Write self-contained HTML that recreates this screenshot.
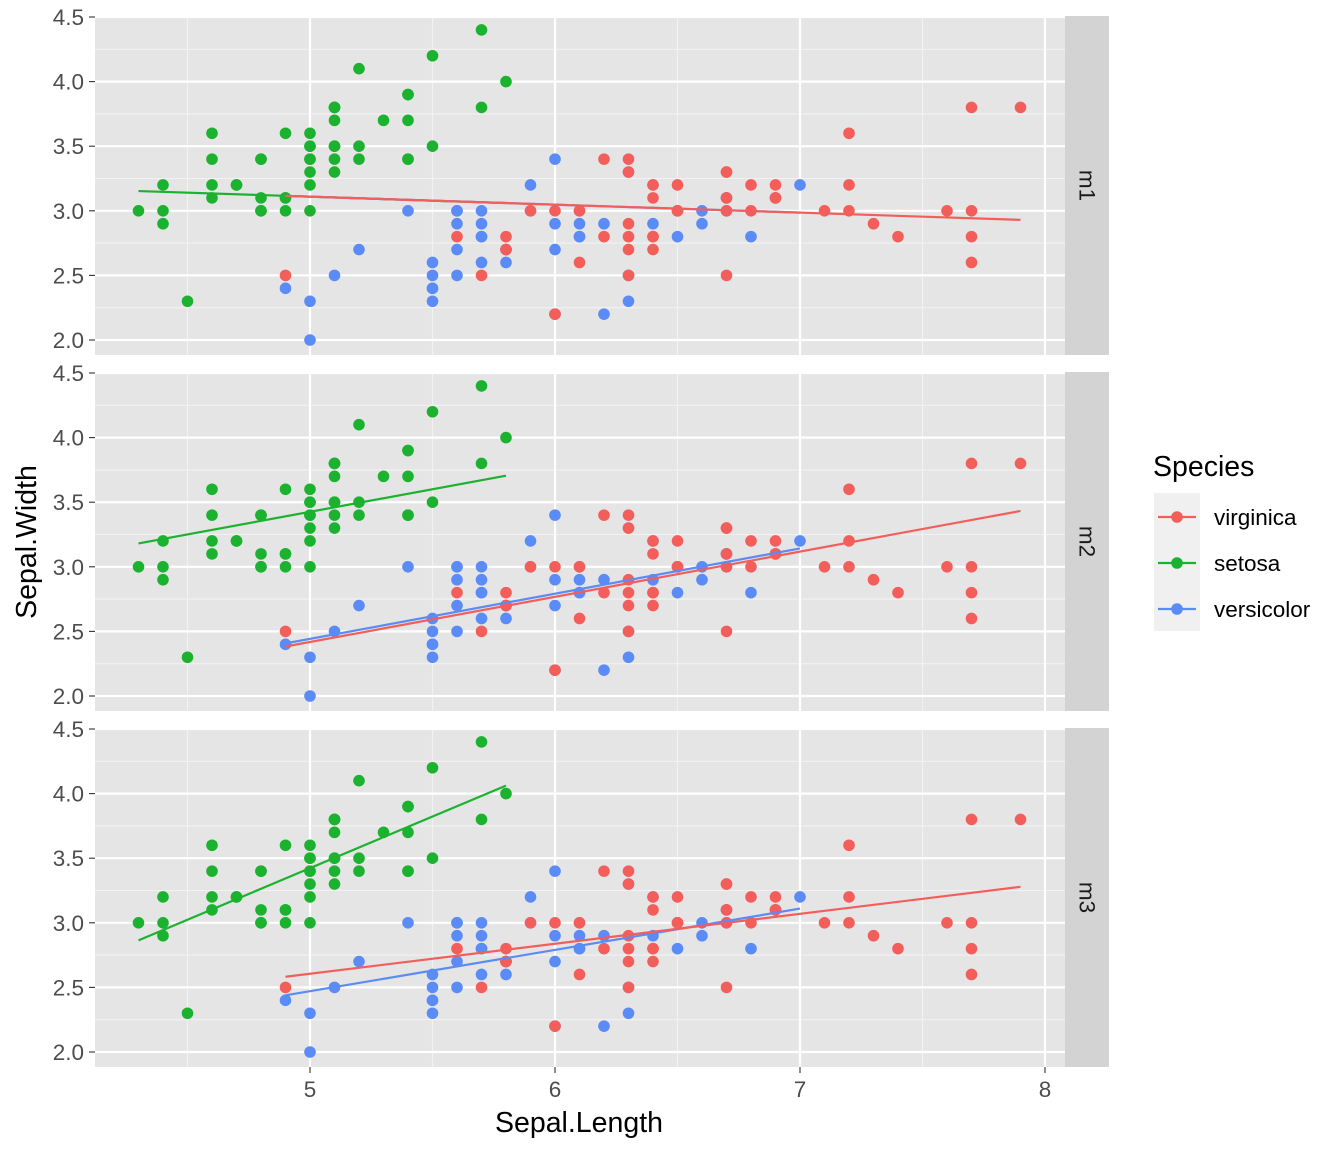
<!DOCTYPE html>
<html><head><meta charset="utf-8"><style>
body{margin:0;background:#fff}
svg text{font-family:"Liberation Sans",Arial,sans-serif}
</style></head><body>
<svg id="c" width="1344" height="1152" xmlns="http://www.w3.org/2000/svg"></svg>
<script>
const setosaL=[5.1,4.9,4.7,4.6,5.0,5.4,4.6,5.0,4.4,4.9,5.4,4.8,4.8,4.3,5.8,5.7,5.4,5.1,5.7,5.1,5.4,5.1,4.6,5.1,4.8,5.0,5.0,5.2,5.2,4.7,4.8,5.4,5.2,5.5,4.9,5.0,5.5,4.9,4.4,5.1,5.0,4.5,4.4,5.0,5.1,4.8,5.1,4.6,5.3,5.0];
const setosaW=[3.5,3.0,3.2,3.1,3.6,3.9,3.4,3.4,2.9,3.1,3.7,3.4,3.0,3.0,4.0,4.4,3.9,3.5,3.8,3.8,3.4,3.7,3.6,3.3,3.4,3.0,3.4,3.5,3.4,3.2,3.1,3.4,4.1,4.2,3.1,3.2,3.5,3.6,3.0,3.4,3.5,2.3,3.2,3.5,3.8,3.0,3.8,3.2,3.7,3.3];
const versiL=[7.0,6.4,6.9,5.5,6.5,5.7,6.3,4.9,6.6,5.2,5.0,5.9,6.0,6.1,5.6,6.7,5.6,5.8,6.2,5.6,5.9,6.1,6.3,6.1,6.4,6.6,6.8,6.7,6.0,5.7,5.5,5.5,5.8,6.0,5.4,6.0,6.7,6.3,5.6,5.5,5.5,6.1,5.8,5.0,5.6,5.7,5.7,6.2,5.1,5.7];
const versiW=[3.2,3.2,3.1,2.3,2.8,2.8,3.3,2.4,2.9,2.7,2.0,3.0,2.2,2.9,2.9,3.1,3.0,2.7,2.2,2.5,3.2,2.8,2.5,2.8,2.9,3.0,2.8,3.0,2.9,2.6,2.4,2.4,2.7,2.7,3.0,3.4,3.1,2.3,3.0,2.5,2.6,3.0,2.6,2.3,2.7,3.0,2.9,2.9,2.5,2.8];
const virgL=[6.3,5.8,7.1,6.3,6.5,7.6,4.9,7.3,6.7,7.2,6.5,6.4,6.8,5.7,5.8,6.4,6.5,7.7,7.7,6.0,6.9,5.6,7.7,6.3,6.7,7.2,6.2,6.1,6.4,7.2,7.4,7.9,6.4,6.3,6.1,7.7,6.3,6.4,6.0,6.9,6.7,6.9,5.8,6.8,6.7,6.7,6.3,6.5,6.2,5.9];
const virgW=[3.3,2.7,3.0,2.9,3.0,3.0,2.5,2.9,2.5,3.6,3.2,2.7,3.0,2.5,2.8,3.2,3.0,3.8,2.6,2.2,3.2,2.8,2.8,2.7,3.3,3.2,2.8,3.0,2.8,3.0,2.8,3.8,2.8,2.8,2.6,3.0,3.4,3.1,3.0,3.1,3.1,3.1,2.7,3.2,3.3,3.0,2.5,3.0,3.4,3.0];
const panels=["m1","m2","m3"];
// model coefficients [intercept, slope] per panel per species (setosa, versicolor, virginica)
const m1Coef=[[3.419,-0.0619],[3.419,-0.0619],[3.419,-0.0619]];
const m2Coef=[[1.6765,0.3498],[0.6932,0.3498],[0.6690,0.3498]];
const m3Coef=[[-0.5694,0.7985],[0.8721,0.3197],[1.4463,0.2319]];
const xTicks=[5,6,7,8];
const yTicks=[2.0,2.5,3.0,3.5,4.0,4.5];
const legendOrder=["virginica","setosa","versicolor"];

const NS="http://www.w3.org/2000/svg",svg=document.getElementById('c');
function el(t,a,p){const e=document.createElementNS(NS,t);for(const k in a)e.setAttribute(k,a[k]);(p||svg).appendChild(e);return e;}
const colors={setosa:"#1BB22F",versicolor:"#5A8BF6",virginica:"#F35E5A"};
const X=v=>310+(v-5)*245;
const PX0=95,PX1=1065,PH=339;
const panelTop=[16,372,728];
const Y=(v,i)=>340+356*i-(v-2.0)*129.2;
const species=[["setosa",setosaL,setosaW],["versicolor",versiL,versiW],["virginica",virgL,virgW]];
const coefs=[m1Coef,m2Coef,m3Coef];

panels.forEach((pn,i)=>{
  const g=el('g',{});
  
  
  const bg=el('rect',{x:PX0,y:panelTop[i],width:PX1-PX0,height:PH,fill:'#E5E5E5'},g);
  
  
  for(let v=4.5;v<=8.01;v+=1){el('line',{x1:X(v),x2:X(v),y1:panelTop[i],y2:panelTop[i]+PH,stroke:'#F2F2F2','stroke-width':1.1},g);}
  for(let v=2.25;v<4.5;v+=0.5){el('line',{x1:PX0,x2:PX1,y1:Y(v,i),y2:Y(v,i),stroke:'#F2F2F2','stroke-width':1.1},g);}
  xTicks.forEach(v=>el('line',{x1:X(v),x2:X(v),y1:panelTop[i],y2:panelTop[i]+PH,stroke:'#fff','stroke-width':2.2},g));
  yTicks.forEach(v=>{
    el('line',{x1:PX0,x2:PX1,y1:Y(v,i),y2:Y(v,i),stroke:'#fff','stroke-width':2.2},g);
    el('line',{x1:89,x2:95,y1:Y(v,i),y2:Y(v,i),stroke:'#333','stroke-width':1.1},g);
    const t=el('text',{x:84,y:Y(v,i)+8,'text-anchor':'end','font-size':22.5,fill:'#4D4D4D'},g);
    t.textContent=v.toFixed(1);
    
    
  });
  species.forEach(([s,L,W])=>{
    L.forEach((x,k)=>{
      const c=el('circle',{cx:X(x),cy:Y(W[k],i),r:5.8,fill:colors[s]},g);
      
      
    });
  });
  species.forEach(([s,L],j)=>{
    const [a,b]=coefs[i][j];
    const lo=Math.min(...L),hi=Math.max(...L);
    const ln=el('line',{x1:X(lo),y1:Y(a+b*lo,i),x2:X(hi),y2:Y(a+b*hi,i),stroke:colors[s],'stroke-width':2.2},g);
    
    
  });
  const st=el('rect',{x:1065,y:panelTop[i],width:44,height:PH,fill:'#D3D3D3'},g);
  
  
  const cy=panelTop[i]+PH/2;
  const tt=el('text',{x:1087,y:cy,transform:`rotate(90 1087 ${cy})`,'text-anchor':'middle','dominant-baseline':'central','font-size':22.5,fill:'#1A1A1A'},g);
  tt.textContent=pn;
  
  
});
xTicks.forEach(v=>{
  el('line',{x1:X(v),x2:X(v),y1:1067,y2:1073,stroke:'#333','stroke-width':1.1});
  const t=el('text',{x:X(v),y:1097,'text-anchor':'middle','font-size':22.5,fill:'#4D4D4D'});
  t.textContent=v;
  
  
});
const xt=el('text',{x:579,y:1132,'text-anchor':'middle','font-size':28.5,fill:'#000'});
xt.textContent='Sepal.Length';


const yt=el('text',{x:36,y:542,transform:'rotate(-90 36 542)','text-anchor':'middle','font-size':28.5,fill:'#000'});
yt.textContent='Sepal.Width';


const lg=el('g',{});


const lt=el('text',{x:1153,y:476,'font-size':28.5,fill:'#000'},lg);
lt.textContent='Species';


el('rect',{x:1154,y:493,width:46,height:138,fill:'#F0F0F0'},lg);
legendOrder.forEach((s,k)=>{
  const y=517+k*46;
  const e=el('g',{},lg);
  
  
  el('line',{x1:1158,x2:1196,y1:y,y2:y,stroke:colors[s],'stroke-width':2.2},e);
  el('circle',{cx:1177,cy:y,r:5.8,fill:colors[s]},e);
  const t=el('text',{x:1214,y:y+8,'font-size':22.5,fill:'#000'},e);
  t.textContent=s;
});
</script>
</body></html>
